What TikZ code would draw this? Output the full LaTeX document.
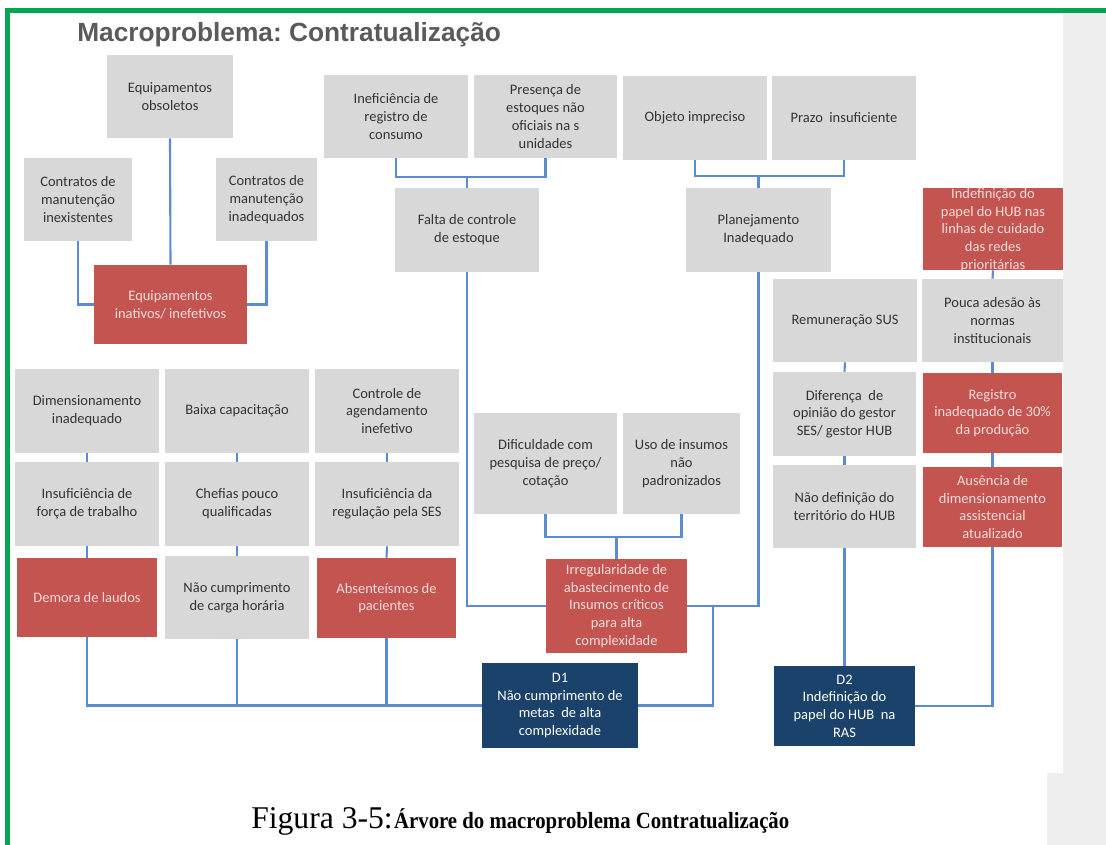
\documentclass[tikz,border=0pt]{standalone}
\usepackage{fontspec}
\setmainfont{Carlito}
\newfontfamily\headfont{Liberation Sans}
\newfontfamily\capfont{Liberation Serif}
\usepackage{graphicx}
\usepackage{tikz}
\frenchspacing

\definecolor{cellgray}{HTML}{D8D8D8}
\definecolor{celltext}{HTML}{333333}
\definecolor{cellred}{HTML}{C35450}
\definecolor{redtext}{HTML}{F7DCDB}
\definecolor{cellnavy}{HTML}{1B426A}
\definecolor{linkblue}{HTML}{5B8BD0}
\definecolor{framegreen}{HTML}{00A651}
\definecolor{stripgray}{HTML}{EDEEED}
\definecolor{titlegray}{HTML}{5A5A5A}

\tikzset{
  cell/.style={rectangle, inner sep=0pt, align=center, font=\fontsize{10.3}{12.6}\selectfont},
  wh/.style 2 args={minimum width=#1*0.025cm, minimum height=#2*0.025cm},
  causa/.style={cell, fill=cellgray, text=celltext},
  critico/.style={cell, fill=cellred, text=redtext},
  descritor/.style={cell, fill=cellnavy, text=white},
  link/.style={draw=linkblue, line width=1.5pt},
}

\begin{document}
\begin{tikzpicture}[x=0.025cm, y=-0.025cm]
\useasboundingbox (0,0) rectangle (1106,845);

% page edge and frame
\fill[stripgray] (1063,13) rectangle (1106,773);
\fill[stripgray] (1047,773) rectangle (1106,845);
\draw[framegreen, line width=0.125cm] (7.5,845) -- (7.5,10.8) -- (1106,10.8);

\node[anchor=base west, inner sep=0pt, text=titlegray, font=\headfont\bfseries\fontsize{18.7}{22}\selectfont] (titulo) at (77,42) {Macroproblema: Contratualização};

% equipamentos
\node[causa, wh={126}{83}] (eqobs) at (170,96.5) {Equipamentos\\obsoletos};
\node[causa, wh={108}{83}] (contin) at (78,199.5) {Contratos de\\manutenção\\inexistentes};
\node[causa, wh={101}{83}] (contiq) at (266.5,199.5) {Contratos de\\manutenção\\inadequados};
\node[critico, wh={153}{79}] (eqina) at (170.5,304.5) {Equipamentos\\inativos/ inefetivos};

% estoque e planejamento
\node[causa, wh={144}{83}] (inefreg) at (396,116.5) {Ineficiência de\\registro de\\consumo};
\node[causa, wh={143}{83}] (presest) at (545.5,116.5) {Presença de\\estoques não\\oficiais na s\\unidades};
\node[causa, wh={144}{84}] (objimp) at (695,118) {Objeto impreciso};
\node[causa, wh={144}{84}] (prazo) at (844,118) {Prazo\ \ insuficiente};
\node[causa, wh={144}{84}] (faltactl) at (467,230) {Falta de controle\\de estoque};
\node[causa, wh={145}{84}] (planej) at (758.5,230) {Planejamento\\Inadequado};

% papel do HUB
\node[critico, wh={140}{82}] (indef) at (993,229) {};
\begin{scope}
  \clip (923,188) rectangle (1063,270);
  \node[cell, text=redtext] (indeftxt) at (993,230) {Indefinição do\\papel do HUB nas\\linhas de cuidado\\das redes\\prioritárias};
\end{scope}
\node[causa, wh={144}{83}] (remsus) at (845,320.5) {Remuneração SUS};
\node[causa, wh={141}{83}] (pouca) at (992.5,320.5) {Pouca adesão às\\normas\\institucionais};
\node[causa, wh={143}{84}] (difop) at (844.5,414) {Diferença\ \ de\\opinião do gestor\\SES/ gestor HUB};
\node[critico, wh={139}{80}] (regin) at (992.5,413) {Registro\\inadequado de 30\%\\da produção};
\node[causa, wh={143}{83}] (naodef) at (844.5,506.5) {Não definição do\\território do HUB};
\node[critico, wh={139}{80}] (ausdim) at (992.5,507) {Ausência de\\dimensionamento\\assistencial\\atualizado};

% pessoal e regulacao
\node[causa, wh={144}{84}] (dimin) at (87,411) {Dimensionamento\\inadequado};
\node[causa, wh={144}{84}] (baixa) at (237,411) {Baixa capacitação};
\node[causa, wh={144}{84}] (ctrlag) at (387,411) {Controle de\\agendamento\\inefetivo};
\node[causa, wh={144}{84}] (insforca) at (87,504) {Insuficiência de\\força de trabalho};
\node[causa, wh={144}{84}] (chefias) at (237,504) {Chefias pouco\\qualificadas};
\node[causa, wh={144}{84}] (insreg) at (387,504) {Insuficiência da\\regulação pela SES};
\node[critico, wh={140}{79}] (demora) at (87,597.5) {Demora de laudos};
\node[causa, wh={144}{83}] (naocump) at (237,597.5) {Não cumprimento\\de carga horária};
\node[critico, wh={139}{80}] (absent) at (386.5,598) {Absenteísmos de\\pacientes};

% insumos
\node[causa, wh={143}{101}] (difprec) at (545.5,463.5) {Dificuldade com\\pesquisa de preço/\\cotação};
\node[causa, wh={117}{101}] (usoins) at (681.5,463.5) {Uso de insumos\\não\\padronizados};
\node[critico, wh={141}{94}] (irreg) at (616.5,606) {Irregularidade de\\abastecimento de\\Insumos críticos\\para alta\\complexidade};

% descritores
\node[descritor, wh={156}{85}] (d1) at (560,705.5) {D1\\Não cumprimento de\\metas\ \ de alta\\complexidade};
\node[descritor, wh={141}{80}] (d2) at (844.5,706) {D2\\Indefinição do\\papel do HUB\ \ na\\RAS};

% junctions
\coordinate (j1) at (467,177);
\coordinate (j2) at (758.5,176);
\coordinate (j3) at (713,606);
\coordinate (j4) at (616.5,537);

\draw[link] (eqobs.south) -- (eqina.north);
\draw[link] (contin.south) |- (eqina.west);
\draw[link] (contiq.south) |- (eqina.east);

\draw[link] (inefreg.south) |- (j1) -| (presest.south);
\draw[link] (j1) -- (faltactl.north);
\draw[link] (objimp.south) |- (j2) -| (prazo.south);
\draw[link] (j2) -- (planej.north);
\draw[link] (faltactl.south) |- (irreg.west);
\draw[link] (planej.south) |- (irreg.east);
\draw[link] (difprec.south) |- (j4) -| (usoins.south);
\draw[link] (j4) -- (irreg.north);
\draw[link] (j3) |- (d1.east);

\foreach \a/\b in {dimin/insforca, insforca/demora, baixa/chefias, chefias/naocump,
                   ctrlag/insreg, insreg/absent, remsus/difop, difop/naodef,
                   naodef/d2, indef/pouca, pouca/regin, regin/ausdim}
  \draw[link] (\a.south) -- (\b.north);
\draw[link] (demora.south) |- (d1.west);
\draw[link] (naocump.south) -- (naocump.south |- d1.west);
\draw[link] (absent.south) -- (absent.south |- d1.west);
\draw[link] (ausdim.south) |- (d2.east);

\node[anchor=base west, inner sep=0pt] (legenda) at (251,828) {\capfont\fontsize{22.5}{24}\selectfont Figura 3-5:\kern1pt\bfseries\fontsize{16.5}{18}\selectfont\scalebox{0.895}[1]{Árvore do macroproblema Contratualização}};
\end{tikzpicture}
\end{document}
